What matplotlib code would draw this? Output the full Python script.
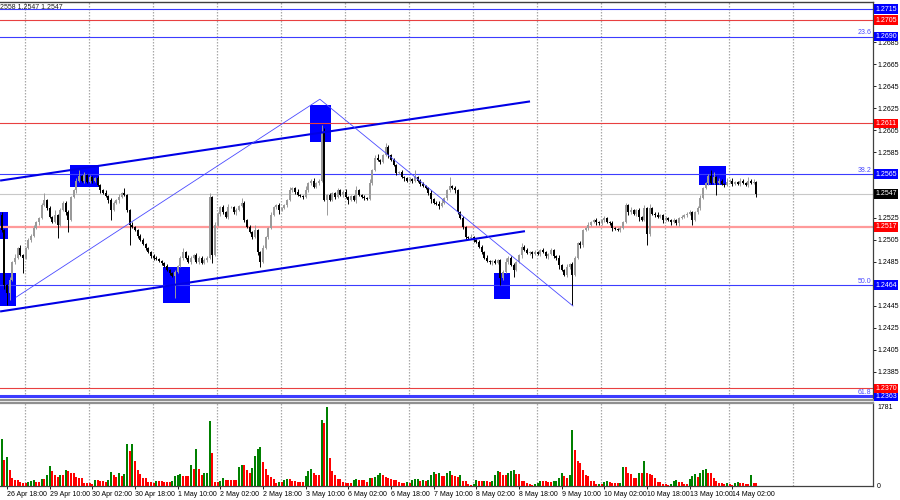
import numpy as np
import matplotlib
matplotlib.use("Agg")
import matplotlib.pyplot as plt
from matplotlib.patches import Rectangle
from matplotlib.transforms import blended_transform_factory

plt.rcParams['font.family'] = ['Liberation Sans', 'DejaVu Sans']
plt.rcParams['font.size'] = 5

# GBPUSD H1, 26 Apr 16:00 .. 14 May 11:00
# closes in pips above 1.0000 (2547 -> 1.2547)
closes = [
    2514, 2464, 2457, 2469, 2485, 2489, 2498, 2491, 2489, 2498, 2505, 2509, 2516, 2521, 2525, 2537, 2541, 2534, 2526, 2521,
    2528, 2519, 2532, 2539, 2530, 2523, 2544, 2550, 2559, 2563, 2559, 2564, 2558, 2562, 2559, 2561, 2555, 2550, 2548, 2545,
    2541, 2532, 2539, 2541, 2544, 2548, 2546, 2532, 2519, 2517, 2514, 2509, 2505, 2501, 2498, 2494, 2490, 2489, 2488, 2486,
    2484, 2481, 2478, 2475, 2472, 2476, 2481, 2489, 2494, 2489, 2485, 2489, 2491, 2485, 2489, 2484, 2487, 2489, 2544, 2491,
    2519, 2529, 2535, 2530, 2526, 2535, 2535, 2530, 2532, 2536, 2539, 2523, 2517, 2512, 2508, 2514, 2494, 2485, 2498, 2508,
    2516, 2528, 2535, 2537, 2532, 2534, 2537, 2541, 2550, 2552, 2549, 2546, 2545, 2544, 2550, 2557, 2559, 2553, 2557, 2559,
    2603, 2541, 2546, 2541, 2548, 2544, 2550, 2546, 2549, 2544, 2541, 2545, 2541, 2550, 2546, 2544, 2543, 2542, 2557, 2569,
    2580, 2578, 2576, 2582, 2590, 2582, 2578, 2573, 2566, 2567, 2562, 2561, 2559, 2560, 2559, 2562, 2559, 2556, 2554, 2552,
    2548, 2542, 2539, 2538, 2536, 2539, 2543, 2550, 2554, 2552, 2550, 2530, 2525, 2517, 2508, 2507, 2508, 2505, 2503, 2499,
    2494, 2489, 2486, 2485, 2486, 2484, 2487, 2470, 2476, 2485, 2489, 2482, 2478, 2485, 2491, 2499, 2496, 2493, 2494, 2492,
    2494, 2492, 2496, 2494, 2490, 2492, 2496, 2490, 2489, 2482, 2478, 2473, 2480, 2483, 2473, 2489, 2502, 2500, 2514, 2516,
    2519, 2521, 2523, 2521, 2520, 2523, 2525, 2521, 2520, 2516, 2515, 2514, 2516, 2521, 2537, 2530, 2532, 2529, 2532, 2526,
    2523, 2534, 2510, 2534, 2529, 2528, 2526, 2528, 2523, 2525, 2523, 2521, 2523, 2520, 2525, 2526, 2528, 2529, 2530, 2523,
    2530, 2534, 2543, 2552, 2557, 2563, 2557, 2562, 2557, 2559, 2556, 2555, 2558, 2559, 2556, 2558, 2556, 2559, 2557, 2555,
    2559, 2557, 2558, 2547,
]
first_open = 2528

# wick lengths in pips above / below the candle body
hi_wick = [
    2, 1, 1, 2, 1, 3, 1, 2, 1, 1, 2, 1, 3, 1, 1, 2, 7, 1, 2, 1,
    4, 1, 2, 1, 1, 2, 1, 1, 2, 6, 1, 3, 1, 2, 1, 1, 2, 1, 1, 2,
    1, 2, 1, 1, 3, 1, 4, 1, 1, 2, 1, 1, 1, 2, 1, 1, 1, 2, 1, 1,
    1, 1, 2, 1, 1, 2, 1, 1, 4, 1, 2, 1, 1, 2, 1, 1, 2, 1, 4, 1,
    2, 1, 1, 2, 1, 3, 1, 1, 2, 1, 4, 1, 1, 2, 1, 5, 1, 1, 2, 1,
    1, 2, 1, 1, 2, 1, 1, 1, 3, 1, 1, 2, 1, 1, 4, 1, 1, 2, 1, 1,
    7, 4, 1, 2, 1, 1, 2, 1, 1, 2, 1, 1, 1, 4, 1, 1, 2, 1, 3, 1,
    2, 3, 1, 1, 3, 1, 1, 2, 1, 1, 2, 1, 1, 2, 1, 7, 1, 1, 2, 1,
    1, 2, 1, 1, 2, 3, 1, 1, 8, 1, 2, 1, 1, 2, 1, 1, 2, 1, 1, 2,
    1, 1, 2, 1, 1, 2, 1, 1, 2, 4, 1, 1, 2, 1, 1, 3, 1, 2, 1, 1,
    2, 1, 1, 2, 1, 1, 2, 1, 1, 2, 1, 1, 3, 1, 2, 1, 1, 2, 1, 1,
    2, 1, 1, 2, 1, 1, 2, 1, 1, 2, 1, 1, 2, 1, 2, 1, 3, 1, 1, 2,
    1, 3, 1, 4, 1, 1, 2, 1, 1, 2, 1, 1, 2, 1, 1, 2, 1, 1, 2, 1,
    1, 2, 3, 1, 1, 2, 6, 5, 1, 2, 1, 1, 3, 1, 2, 1, 1, 2, 1, 1,
    3, 1, 2, 1,
]
lo_wick = [
    2, 4, 11, 7, 1, 2, 1, 1, 14, 1, 1, 2, 1, 1, 2, 1, 1, 2, 1, 1,
    1, 12, 1, 1, 2, 11, 1, 1, 2, 1, 1, 2, 1, 1, 2, 1, 1, 2, 1, 1,
    2, 9, 1, 1, 2, 1, 1, 2, 19, 1, 1, 2, 1, 1, 2, 1, 1, 2, 1, 1,
    2, 1, 1, 2, 1, 20, 1, 1, 2, 1, 1, 2, 1, 1, 2, 1, 1, 2, 1, 7,
    1, 1, 2, 1, 1, 2, 1, 1, 2, 1, 1, 2, 1, 1, 2, 1, 3, 5, 1, 1,
    2, 1, 1, 2, 3, 1, 1, 2, 1, 1, 2, 1, 1, 2, 1, 1, 2, 1, 1, 2,
    1, 1, 13, 1, 1, 2, 1, 1, 2, 1, 3, 1, 1, 2, 1, 1, 2, 1, 1, 2,
    1, 1, 2, 1, 1, 2, 1, 1, 2, 1, 1, 2, 1, 1, 2, 1, 1, 2, 1, 1,
    2, 3, 1, 1, 3, 1, 1, 2, 1, 1, 2, 1, 1, 2, 3, 1, 1, 2, 1, 1,
    2, 1, 1, 2, 3, 1, 1, 6, 1, 1, 2, 1, 7, 1, 1, 2, 1, 1, 2, 3,
    1, 1, 2, 1, 1, 2, 1, 1, 2, 3, 1, 1, 2, 1, 27, 1, 1, 2, 1, 1,
    2, 1, 1, 2, 1, 1, 2, 1, 1, 3, 1, 1, 2, 1, 1, 2, 1, 1, 2, 4,
    1, 1, 10, 1, 1, 2, 1, 1, 3, 1, 1, 2, 1, 1, 2, 1, 1, 2, 1, 4,
    1, 1, 2, 1, 1, 2, 1, 1, 11, 1, 1, 2, 1, 1, 2, 1, 1, 2, 1, 1,
    2, 1, 1, 3,
]

volumes = [
    1050, 585, 645, 360, 170, 135, 135, 100, 75, 60, 90, 110, 135, 100, 100, 165, 150, 250, 450, 345,
    250, 210, 250, 250, 360, 345, 285, 285, 210, 170, 170, 75, 60, 60, 45, 135, 135, 120, 110, 100,
    135, 315, 250, 210, 285, 225, 270, 945, 795, 945, 560, 360, 262, 172, 172, 100, 100, 75, 120, 120,
    120, 100, 100, 100, 120, 225, 250, 262, 225, 225, 225, 472, 375, 832, 375, 250, 285, 300, 1470, 750,
    100, 100, 120, 172, 135, 135, 135, 135, 135, 420, 472, 472, 360, 300, 398, 675, 825, 870, 540, 375,
    250, 195, 165, 75, 90, 90, 135, 165, 165, 120, 120, 100, 100, 100, 225, 345, 375, 285, 250, 250,
    1485, 1410, 1781, 622, 345, 250, 150, 150, 100, 75, 75, 60, 135, 165, 135, 135, 135, 100, 172, 172,
    210, 250, 300, 250, 195, 172, 150, 135, 135, 100, 75, 60, 100, 75, 135, 150, 165, 120, 135, 120,
    135, 250, 322, 270, 285, 225, 225, 285, 330, 255, 218, 195, 255, 120, 105, 45, 30, 45, 135, 120,
    105, 120, 105, 90, 105, 255, 345, 315, 255, 255, 292, 345, 367, 270, 270, 120, 105, 68, 45, 30,
    45, 68, 105, 105, 105, 90, 90, 105, 120, 180, 292, 218, 180, 255, 1267, 817, 555, 518, 367, 240,
    218, 120, 120, 45, 52, 52, 98, 112, 98, 75, 60, 60, 75, 435, 435, 300, 262, 173, 173, 300,
    300, 562, 300, 278, 240, 173, 90, 90, 38, 38, 22, 38, 112, 128, 98, 98, 52, 52, 150, 225,
    262, 203, 300, 352, 375, 300, 300, 188, 112, 75, 60, 52, 75, 38, 22, 75, 98, 75, 60, 52,
    38, 248, 60, 60,
]

tick_labels = ["26 Apr 18:00", "29 Apr 10:00", "30 Apr 02:00", "30 Apr 18:00", "1 May 10:00",
               "2 May 02:00", "2 May 18:00", "3 May 10:00", "6 May 02:00", "6 May 18:00",
               "7 May 10:00", "8 May 02:00", "8 May 18:00", "9 May 10:00", "10 May 02:00",
               "10 May 18:00", "13 May 10:00", "14 May 02:00"]
tick_bars = list(range(2, 2 + 16 * len(tick_labels), 16))   # one label every 16 hourly bars

blue_levels = [1.2715, 1.2690, 1.2565, 1.2464, 1.2363]
red_levels = [1.2705, 1.2611, 1.2370]
pink_level = 1.2517
fib_levels = [1.2690, 1.2565, 1.2464, 1.2363]
fib_names = ["23.6", "38.2", "50.0", "61.8"]

# trend lines as (bar, price) end points
upper_channel = ([-0.6, 198.1], [1.2559, 1.2631])
lower_channel = ([-0.6, 196.2], [1.2440, 1.2513])
swing_bars = [5.4, 119.3, 214.2]
swing_prices = [1.2453, 1.2633, 1.2445]

# marked zones (blue boxes)
box_left = [-1.0, -1.0, 25.6, 60.5, 115.6, 184.6, 261.5]
box_right = [2.4, 5.4, 36.5, 70.6, 123.5, 190.6, 271.6]
box_low = [1.2506, 1.2445, 1.2553, 1.2448, 1.2594, 1.2451, 1.2555]
box_high = [1.2530, 1.2475, 1.2573, 1.2480, 1.2628, 1.2475, 1.2572]

# ---- derived arrays
n = len(closes)
idx = np.arange(n)
c = 1 + np.array(closes) / 10000
o = np.concatenate([[1 + first_open / 10000], c[:-1]])
top = np.maximum(o, c)
bot = np.minimum(o, c)
hi = top + np.array(hi_wick) / 10000
lo = bot - np.array(lo_wick) / 10000
candle_col = np.where(c >= o, '#9a9a9a', '#000000')

vol = np.array(volumes)
vol_up = np.concatenate([[True], vol[1:] > vol[:-1]])
vol_col = np.where(vol_up, '#008000', '#ff0000')

fig = plt.figure(figsize=(9, 5), dpi=100)
fig.patch.set_facecolor('white')
W = 873 / 900
ax = fig.add_axes([0, 0.2, W, 0.796])
axv = fig.add_axes([0, 0.028, W, 0.166])

xlim = (-0.64, 326.7)
ax.set_xlim(*xlim)
axv.set_xlim(*xlim)
ax.set_ylim(1.23595, 1.27214)
axv.set_ylim(0, 1870)

# dotted vertical grid every 24 bars
for g in np.arange(8.75, 300, 24):
    for a in (ax, axv):
        a.axvline(g, color='#a8a8a8', lw=0.9, ls=(0, (1.2, 1.2)), zorder=1)

# boxes
for x0, x1, y0, y1 in zip(box_left, box_right, box_low, box_high):
    ax.add_patch(Rectangle((x0, y0), x1 - x0, y1 - y0, facecolor='#0000ff',
                           edgecolor='none', zorder=2))

# horizontal levels
for lv in blue_levels:
    ax.axhline(lv, color='#3c3cff', lw=2.2 if lv == 1.2363 else 0.8, zorder=2.5)
for lv in red_levels:
    ax.axhline(lv, color='#e84040', lw=0.8, zorder=2.5)
ax.axhline(pink_level, color='#ff9a9a', lw=1.6, zorder=2.5)
ax.axhline(c[-1], color='#c8c8c8', lw=0.8, zorder=2.5)

# candles
ax.vlines(idx, lo, hi, colors=candle_col, lw=0.7, zorder=3)
ax.bar(idx, np.maximum(top - bot, 0.00004), bottom=bot, width=0.72,
       color=candle_col, linewidth=0, zorder=3)

# trend lines
ax.plot(*upper_channel, color='#0000e6', lw=1.5, zorder=4, solid_capstyle='butt')
ax.plot(*lower_channel, color='#0000e6', lw=1.5, zorder=4, solid_capstyle='butt')
ax.plot(swing_bars, swing_prices, color='#4a4aff', lw=0.6, zorder=4)

# volumes
axv.bar(idx, vol, width=0.72, color=vol_col, linewidth=0, zorder=3)

# right price scale; grid values hidden behind a level label are left blank
label_specs = ([(lv, '#0000ff') for lv in blue_levels] +
               [(lv, '#ff0000') for lv in red_levels] +
               [(pink_level, '#ff0000'), (c[-1], '#000000')])
label_prices = np.array([lv for lv, _ in label_specs])

trans = blended_transform_factory(ax.transAxes, ax.transData)
ax.yaxis.tick_right()
scale = np.arange(1.2385, 1.2706, 0.0020)
ax.set_yticks(scale)
ax.set_yticklabels(['' if np.min(np.abs(label_prices - v)) < 0.0004 else f'{v:.4f}'
                    for v in scale])
ax.tick_params(axis='y', length=2, width=0.6, pad=1.5, labelsize=5, colors='#000000')
ax.set_xticks([])

for lv, col in label_specs:
    ax.text(1.0025, lv, f'{lv:.4f}', transform=trans, color='white', ha='left', va='center',
            fontsize=5, zorder=6, clip_on=False,
            bbox=dict(boxstyle='square,pad=0.2', fc=col, ec='none'))

for lv, name in zip(fib_levels, fib_names):
    ax.text(0.998, lv + 0.00003, name, transform=trans, color='#4a4aff', ha='right',
            va='bottom', fontsize=5, zorder=5)

ax.text(0.0, 0.994, '2558 1.2547 1.2547', transform=ax.transAxes, ha='left', va='top',
        fontsize=5, color='#202020', zorder=6)

# volume scale and time axis
axv.yaxis.tick_right()
axv.set_yticks([0, vol.max()])
axv.set_yticklabels(['0', str(vol.max())])
axv.tick_params(axis='y', length=0, pad=3, labelsize=5)
axv.set_xticks(tick_bars)
axv.set_xticklabels(tick_labels)
axv.tick_params(axis='x', length=2, width=0.6, pad=1.5, labelsize=5)
for lab in axv.get_xticklabels():
    lab.set_horizontalalignment('left')

for a in (ax, axv):
    a.spines['left'].set_visible(False)
    a.spines['right'].set_color('#404040')
    a.spines['right'].set_linewidth(0.9)
    a.set_facecolor('white')
ax.spines['top'].set_color('#404040')
ax.spines['top'].set_linewidth(1.0)
ax.spines['bottom'].set_color('#909090')
ax.spines['bottom'].set_linewidth(1.6)
axv.spines['top'].set_color('#909090')
axv.spines['top'].set_linewidth(1.6)
axv.spines['bottom'].set_color('#404040')
axv.spines['bottom'].set_linewidth(0.9)

fig.savefig('out.png', dpi=100)
